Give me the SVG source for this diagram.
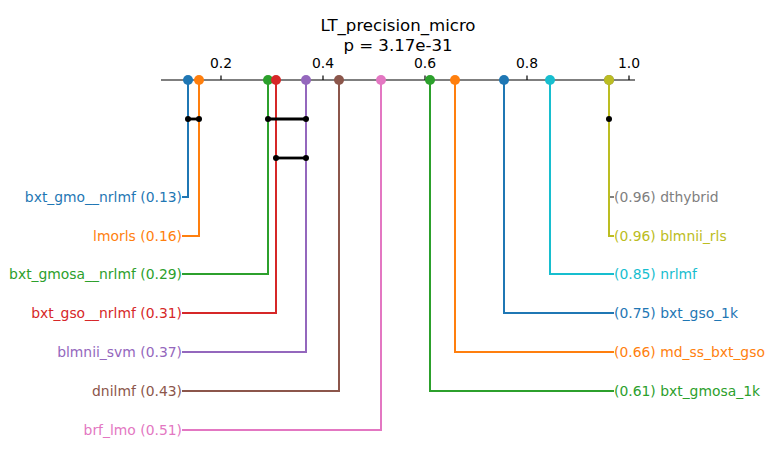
<svg xmlns="http://www.w3.org/2000/svg" width="774" height="462" viewBox="0 0 774 462">
<style>
text{font-family:"DejaVu Sans",sans-serif;font-size:13.9px}
.t{font-size:16.6px;text-anchor:middle}
.tk{text-anchor:middle}
.l{text-anchor:end}
.ln{fill:none;stroke-width:2}
.cl{stroke:#000;stroke-width:2.8}
</style>
<rect width="774" height="462" fill="#fff"/>
<g id="title">
<text class="t" x="398" y="31">LT_precision_micro</text>
<text class="t" x="398" y="51">p = 3.17e-31</text>
</g>
<g id="axis" stroke="#000" stroke-width="1.2">
<line x1="161" y1="80" x2="635" y2="80"/>
<line x1="221" y1="75.5" x2="221" y2="80"/>
<line x1="323" y1="75.5" x2="323" y2="80"/>
<line x1="425" y1="75.5" x2="425" y2="80"/>
<line x1="527" y1="75.5" x2="527" y2="80"/>
<line x1="629" y1="75.5" x2="629" y2="80"/>
</g>
<g id="ticks" fill="#000" stroke="none">
<text class="tk" x="221" y="68">0.2</text>
<text class="tk" x="323" y="68">0.4</text>
<text class="tk" x="425" y="68">0.6</text>
<text class="tk" x="527" y="68">0.8</text>
<text class="tk" x="629" y="68">1.0</text>
</g>
<g id="connectors">
<polyline class="ln" stroke="#1f77b4" points="188,80 188,197 182,197"/>
<polyline class="ln" stroke="#ff7f0e" points="199,80 199,236 182,236"/>
<polyline class="ln" stroke="#2ca02c" points="268,80 268,274 182,274"/>
<polyline class="ln" stroke="#d62728" points="276,80 276,313 182,313"/>
<polyline class="ln" stroke="#9467bd" points="306,80 306,352 182,352"/>
<polyline class="ln" stroke="#8c564b" points="339,80 339,391 182,391"/>
<polyline class="ln" stroke="#e377c2" points="381,80 381,430 182,430"/>
<polyline class="ln" stroke="#7f7f7f" points="609,80 609,197 614,197"/>
<polyline class="ln" stroke="#bcbd22" points="609,80 609,236 614,236"/>
<polyline class="ln" stroke="#17becf" points="550,80 550,274 614,274"/>
<polyline class="ln" stroke="#1f77b4" points="504,80 504,313 614,313"/>
<polyline class="ln" stroke="#ff7f0e" points="455,80 455,352 614,352"/>
<polyline class="ln" stroke="#2ca02c" points="430,80 430,391 614,391"/>
</g>
<g id="cliques" fill="#000">
<line class="cl" x1="188" y1="119" x2="199" y2="119"/>
<circle cx="188" cy="119" r="3"/><circle cx="199" cy="119" r="3"/>
<line class="cl" x1="268" y1="119" x2="306" y2="119"/>
<circle cx="268" cy="119" r="3"/><circle cx="306" cy="119" r="3"/>
<line class="cl" x1="276" y1="158" x2="306" y2="158"/>
<circle cx="276" cy="158" r="3"/><circle cx="306" cy="158" r="3"/>
<circle cx="609" cy="119" r="3"/>
</g>
<g id="n_bxt_gmo__nrlmf"><circle cx="188" cy="80" r="5" fill="#1f77b4"/><text class="l" x="182" y="202" fill="#1f77b4">bxt_gmo__nrlmf (0.13)</text></g>
<g id="n_lmorls"><circle cx="199" cy="80" r="5" fill="#ff7f0e"/><text class="l" x="182" y="241" fill="#ff7f0e">lmorls (0.16)</text></g>
<g id="n_bxt_gmosa__nrlmf"><circle cx="268" cy="80" r="5" fill="#2ca02c"/><text class="l" x="182" y="279" fill="#2ca02c">bxt_gmosa__nrlmf (0.29)</text></g>
<g id="n_bxt_gso__nrlmf"><circle cx="276" cy="80" r="5" fill="#d62728"/><text class="l" x="182" y="318" fill="#d62728">bxt_gso__nrlmf (0.31)</text></g>
<g id="n_blmnii_svm"><circle cx="306" cy="80" r="5" fill="#9467bd"/><text class="l" x="182" y="357" fill="#9467bd">blmnii_svm (0.37)</text></g>
<g id="n_dnilmf"><circle cx="339" cy="80" r="5" fill="#8c564b"/><text class="l" x="182" y="396" fill="#8c564b">dnilmf (0.43)</text></g>
<g id="n_brf_lmo"><circle cx="381" cy="80" r="5" fill="#e377c2"/><text class="l" x="182" y="435" fill="#e377c2">brf_lmo (0.51)</text></g>
<g id="n_dthybrid"><circle cx="609" cy="80" r="5" fill="#7f7f7f"/><text x="614" y="202" fill="#7f7f7f">(0.96) dthybrid</text></g>
<g id="n_blmnii_rls"><circle cx="609" cy="80" r="5" fill="#bcbd22"/><text x="614" y="241" fill="#bcbd22">(0.96) blmnii_rls</text></g>
<g id="n_nrlmf"><circle cx="550" cy="80" r="5" fill="#17becf"/><text x="614" y="279" fill="#17becf">(0.85) nrlmf</text></g>
<g id="n_bxt_gso_1k"><circle cx="504" cy="80" r="5" fill="#1f77b4"/><text x="614" y="318" fill="#1f77b4">(0.75) bxt_gso_1k</text></g>
<g id="n_md_ss_bxt_gso"><circle cx="455" cy="80" r="5" fill="#ff7f0e"/><text x="614" y="357" fill="#ff7f0e">(0.66) md_ss_bxt_gso</text></g>
<g id="n_bxt_gmosa_1k"><circle cx="430" cy="80" r="5" fill="#2ca02c"/><text x="614" y="396" fill="#2ca02c">(0.61) bxt_gmosa_1k</text></g>
</svg>
